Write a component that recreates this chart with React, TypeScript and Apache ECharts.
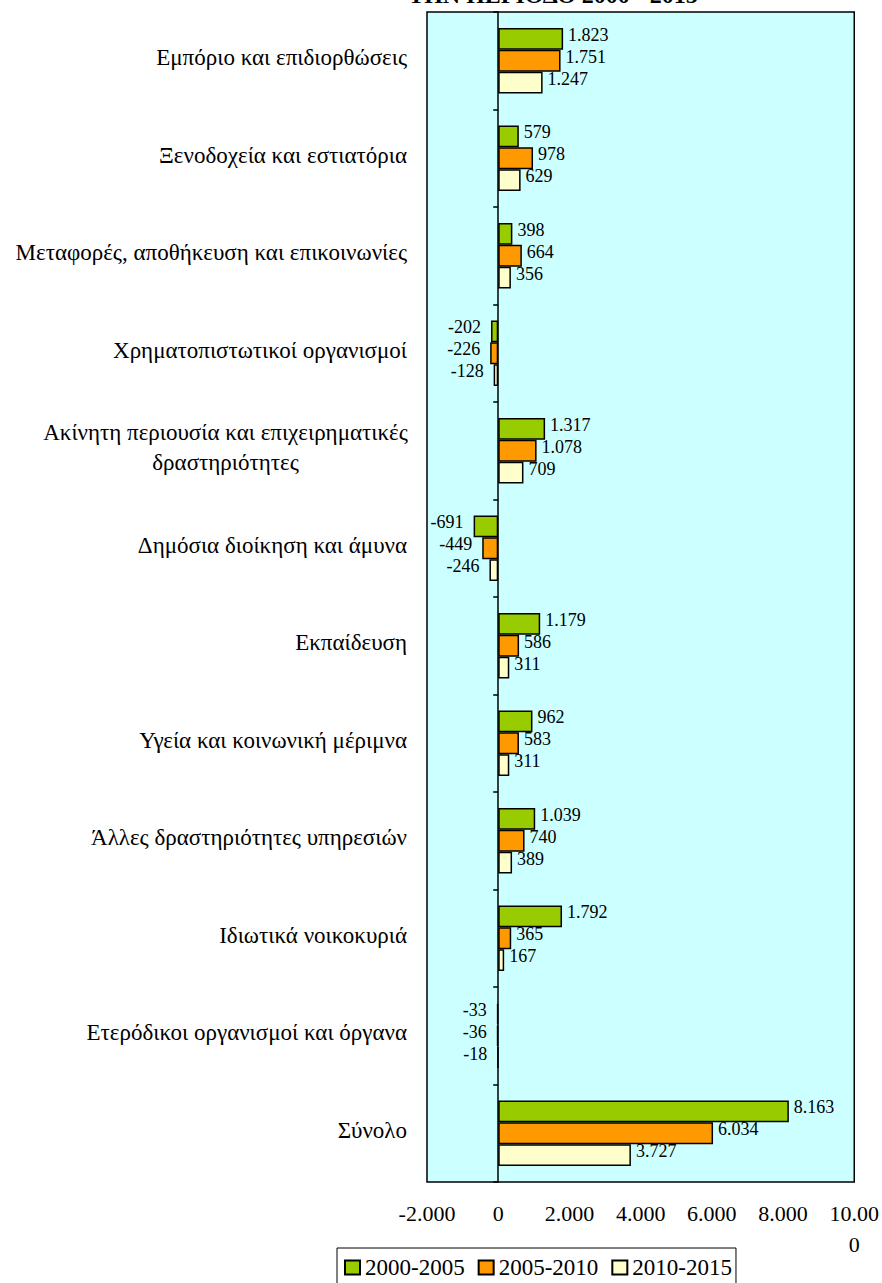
import React, { useEffect, useRef } from "react";
import * as echarts from "echarts";

const titleText = "ΤΗΝ ΠΕΡΙΟΔΟ 2000 - 2015";

const categories = [
  "Εμπόριο και επιδιορθώσεις",
  "Ξενοδοχεία και εστιατόρια",
  "Μεταφορές, αποθήκευση και επικοινωνίες",
  "Χρηματοπιστωτικοί οργανισμοί",
  "Ακίνητη περιουσία και επιχειρηματικές\nδραστηριότητες",
  "Δημόσια διοίκηση και άμυνα",
  "Εκπαίδευση",
  "Υγεία και κοινωνική μέριμνα",
  "Άλλες δραστηριότητες υπηρεσιών",
  "Ιδιωτικά νοικοκυριά",
  "Ετερόδικοι οργανισμοί και όργανα",
  "Σύνολο",
];

const seriesNames = ["2000-2005", "2005-2010", "2010-2015"];

const values2000_2005 = [1823, 579, 398, -202, 1317, -691, 1179, 962, 1039, 1792, -33, 8163];
const values2005_2010 = [1751, 978, 664, -226, 1078, -449, 586, 583, 740, 365, -36, 6034];
const values2010_2015 = [1247, 629, 356, -128, 709, -246, 311, 311, 389, 167, -18, 3727];

const seriesColors = ["#99CC00", "#FF9900", "#FFFFCC"];

const xMin = -2000;
const xMax = 10000;
const xInterval = 2000;

const FONT = "'Liberation Serif', 'Times New Roman', serif";

const fmt = (v: number): string => {
  const s = String(Math.abs(v)).replace(/\B(?=(\d{3})+(?!\d))/g, ".");
  return v < 0 ? "-" + s : s;
};

export default function App() {
  const ref = useRef<HTMLDivElement>(null);

  useEffect(() => {
    if (!ref.current) return;
    const chart = echarts.init(ref.current, null, { renderer: "svg" });

    const allValues = [values2000_2005, values2005_2010, values2010_2015];

    const series = allValues.map((vals, i) => ({
      name: seriesNames[i],
      type: "bar",
      yAxisIndex: 0,
      xAxisIndex: 0,
      barGap: "0%",
      barCategoryGap: "33%",
      itemStyle: {
        color: seriesColors[i],
        borderColor: "#000",
        borderWidth: 1.5,
      },
      label: {
        show: true,
        distance: 5,
        offset: [0, -4],
        fontSize: 18,
        fontFamily: FONT,
        color: "#000",
        formatter: (p: any) => fmt(p.value),
      },
      data: vals.map((v) => ({
        value: v,
        label: v < 0 ? { position: "left", distance: 10 } : { position: "right" },
      })),
    }));

    chart.setOption({
      animation: false,
      backgroundColor: "#fff",
      graphic: [
        {
          type: "text",
          x: 553,
          y: -5,
          style: {
            text: titleText,
            font: `bold 24px ${FONT}`,
            fill: "#000",
            textAlign: "center",
            textVerticalAlign: "middle",
          },
        },
      ],
      legend: {
        data: seriesNames,
        left: 337,
        top: 1248,
        orient: "horizontal",
        padding: [8, 4, 8, 7],
        itemGap: 13,
        itemWidth: 15,
        itemHeight: 14,
        icon: "rect",
        borderColor: "#000",
        borderWidth: 1,
        backgroundColor: "#fff",
        textStyle: { fontSize: 23, fontFamily: FONT, color: "#000" },
      },
      grid: {
        left: 427,
        right: 27,
        top: 12,
        bottom: 101,
        show: true,
        backgroundColor: "#CCFFFF",
        borderColor: "#000",
        borderWidth: 1.5,
        containLabel: false,
      },
      xAxis: {
        type: "value",
        min: xMin,
        max: xMax,
        interval: xInterval,
        splitLine: { show: false },
        axisLine: { show: false },
        axisTick: { show: false },
        axisLabel: {
          fontSize: 22,
          fontFamily: FONT,
          color: "#000",
          margin: 16,
          lineHeight: 31,
          verticalAlign: "top",
          formatter: (v: number) => (v === 10000 ? "10.00\n0" : fmt(v)),
        },
      },
      yAxis: [
        {
          type: "category",
          data: categories,
          inverse: true,
          position: "left",
          axisLine: { show: false, onZero: false },
          axisTick: { show: false },
          axisLabel: {
            fontSize: 23,
            fontFamily: FONT,
            color: "#000",
            margin: 20,
            padding: [0, 0, 6, 0],
            formatter: (v: string) => {
              if (v.indexOf("\n") >= 0) {
                const parts = v.split("\n");
                return parts.map((p) => `{c|${p}}`).join("\n");
              }
              return v;
            },
            rich: {
              c: {
                width: 363,
                align: "center",
                fontSize: 23,
                fontFamily: FONT,
                color: "#000",
                lineHeight: 30,
              },
            },
          },
        },
        {
          type: "category",
          data: categories,
          inverse: true,
          position: "left",
          axisLine: { show: true, onZero: true, lineStyle: { color: "#000", width: 1.5 } },
          axisTick: { show: true, length: 5, lineStyle: { color: "#000", width: 1.5 } },
          axisLabel: { show: false },
        },
      ],
      series,
    });

    return () => chart.dispose();
  }, []);

  return (
    <div
      ref={ref}
      style={{ position: "absolute", left: 0, top: 0, width: 882, height: 1283 }}
    />
  );
}
